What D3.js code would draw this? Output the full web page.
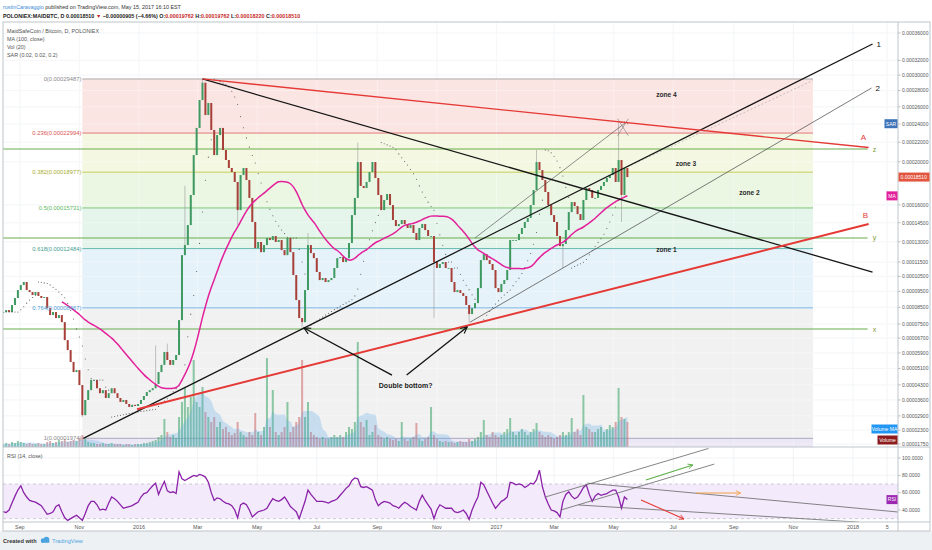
<!DOCTYPE html>
<html><head><meta charset="utf-8"><title>MAIDBTC</title>
<script src="https://cdn.jsdelivr.net/npm/d3@7/dist/d3.min.js"></script>
<style>
html,body{margin:0;padding:0;background:#fff;overflow:hidden}
svg{display:block;font-family:"Liberation Sans",Arial,sans-serif}
</style></head><body>
<svg id="chart" width="932" height="550"></svg>
<script>
// ---------- DATA (prices in units of 1e-8 BTC, one sample every 3 days) ----------
const firstDate = "2015-08-15";
const stepDays = 3;
const closes = [8210,8330,8210,8640,9080,9590,9920,10120,9590,9460,
 9270,9460,9210,9080,9140,8450,8030,8210,7850,8030,
 7610,6590,6050,5430,4920,5020,4290,2930,3600,4050,
 4530,4530,4140,3910,4050,3690,3910,4140,3910,3690,
 3510,3600,3420,3290,3380,3330,3420,3600,3780,3960,
 4050,4140,4340,4920,5280,5950,5530,5280,5530,5790,
 7730,12000,12750,14310,16860,20670,23560,26820,29000,25030,
 26460,23330,20670,22780,23560,21190,20170,19380,18990,18050,
 15550,18700,19380,18230,16600,14560,12520,12980,12220,12750,
 13290,13130,13440,12980,13130,12370,12000,13290,12220,10590,
 8950,7850,7610,9590,12750,12150,11780,10800,10250,10390,
 10120,10250,10390,11080,11780,11860,11500,11780,12900,15130,
 16600,19970,17680,17490,18050,18990,19970,18420,16860,15550,
 16420,16950,15980,14720,14230,14390,14720,14390,14070,14310,
 13680,13130,14070,14390,13910,13440,13440,11500,11080,11360,
 11500,11080,11080,10120,9460,9590,9400,9210,8640,8090,
 8450,8760,9720,11640,12070,11640,11360,10940,9720,9460,
 9990,10250,10940,13130,13130,13130,13600,14070,14560,14890,
 15980,17310,19970,19180,18230,17130,15980,15130,14560,13440,
 12670,12830,13910,15380,16240,15890,15210,14720,16420,17490,
 17310,16600,16600,17310,17680,18050,18420,18700,19380,18050,
 20170,16860,19380,18510];
const wickIndex = [27,52,56,62,68,80,102,104,121,147,159,182,191,210,211];
const wickHigh  = [null,6300,6400,17700,29487,null,null,13680,21980,null,null,21190,null,24230,null];
const wickLow   = [2850,null,null,null,null,14310,7300,null,null,7850,7550,null,11080,null,14560];
const volumes = [30,40,30,50,40,60,50,40,30,40,30,30,40,30,30,50,60,40,50,70,
 60,80,50,60,70,60,90,120,80,50,40,
 40,30,30,40,30,30,40,30,30,30,20,30,30,20,30,30,30,40,40,50,
 60,70,100,120,280,150,100,120,90,
 300,450,600,400,500,870,450,400,600,350,
 300,250,300,200,250,180,200,150,120,140,
 250,150,120,100,150,120,340,150,120,200,
 890,200,570,150,120,150,200,450,150,200,
 250,300,870,300,450,150,120,100,80,100,
 80,80,100,120,100,120,100,150,200,180,
 250,1050,250,200,270,120,150,220,120,100,
 80,100,80,70,80,60,250,80,60,80,
 100,240,80,60,80,100,400,120,80,60,
 50,60,50,50,40,50,60,50,50,80,
 60,80,100,150,270,120,100,150,120,100,
 120,150,180,290,150,120,150,180,150,120,
 150,180,240,150,120,100,120,100,80,100,
 120,150,120,150,290,150,180,120,520,200,
 180,150,150,180,200,150,180,220,200,250,
 590,300,280,250];
const rsiValues = [38,37,40,48,56,63,68,60,55,51,
 50,49,47,45,40,35,36,38,44,46,
 38,31,28,30,32,34,31,28,36,45,
 50,50,46,40,41,40,48,55,53,50,
 46,42,43,44,45,47,49,55,59,60,
 64,68,71,58,66,73,62,60,61,59,
 84,76,74,76,78,80,79,81,80,78,
 72,60,51,54,53,50,48,47,45,40,
 31,46,48,46,40,32,35,38,39,40,
 42,48,53,51,50,52,55,50,44,41,
 38,30,40,50,63,58,54,50,50,50,
 49,48,50,51,53,57,61,65,68,74,
 77,76,67,66,67,65,63,52,45,48,
 50,49,48,45,44,42,46,49,47,44,
 42,40,50,57,51,46,41,30,40,46,
 44,42,42,42,38,37,38,40,36,29,
 40,48,55,72,69,62,55,48,42,46,
 50,52,55,72,71,69,70,69,66,68,
 71,70,75,86,67,55,47,40,39,37,
 32,50,58,61,56,53,55,60,66,69,
 58,50,56,59,57,58,59,61,63,63,
 55,42,55,52];
const priceTicks = [36000,32000,30000,28000,26000,24000,22000,20000,16000,14500,13000,11500,10500,9500,8500,7500,6700,5900,5100,4300,3600,2900,2300,1750];
const rsiTicks = [100,80,60,40];
const timeTickDates = ["2015-09-01","2015-11-01","2016-01-01","2016-03-01","2016-05-01","2016-07-01","2016-09-01","2016-11-01","2017-01-01","2017-03-01","2017-05-01","2017-07-01","2017-09-01","2017-11-01","2018-01-01","2018-02-05"];
const timeTickLabels = ["Sep","Nov","2016","Mar","May","Jul","Sep","Nov","2017","Mar","May","Jul","Sep","Nov","2018","5"];
const fibLevels = [0,0.236,0.382,0.5,0.618,0.764,1];
const fibHighPrice = 29487, fibLowPrice = 1974;
const fibStartDate = "2015-11-04", fibEndDate = "2017-11-21";
// drawings: [date1, price1, date2, price2]
const lineA      = ["2016-03-06",29487,"2018-01-17",21450];
const lineB      = ["2015-12-30",3190,"2018-01-17",14390];
const line1      = ["2015-11-05",1974,"2018-01-21",34350];
const lineDown   = ["2016-03-06",29487,"2018-01-21",10800];
const line2      = ["2016-12-05",7610,"2018-01-20",28320];
const lineUpper  = ["2016-12-10",13290,"2017-05-14",24230];
const lineDashed = ["2017-05-15",19480,"2017-11-21",29300];
const crossA = ["2017-05-05",24600,"2017-05-16",22700];
const crossB = ["2017-05-05",22700,"2017-05-16",24600];
const levelNames = ["z","y","x"];
const levelPrices = [21290,13290,7210];
const levelEndDate = "2018-01-16";
const arrowLeft  = ["2016-09-16",4770,"2016-06-18",7270];
const arrowRight = ["2016-10-01",4770,"2016-12-02",7330];
const noteText = "Double bottom?", noteDate = "2016-09-30", notePrice = 4240;
const zoneNames = ["zone 4","zone 3","zone 2","zone 1"];
const zoneDates = ["2017-06-24","2017-07-14","2017-09-17","2017-06-24"];
const zonePrices = [27440,19770,17040,12370];
// RSI drawings: [date1, rsi1, date2, rsi2]
const rsiLines = [["2017-02-20",55,"2017-08-06",111],["2017-03-08",40,"2017-08-12",93],
                  ["2017-04-04",71,"2018-02-16",37.7],["2017-03-26",45.8,"2018-01-07",26]];
const rsiArrowGreen  = ["2017-06-03",74.6,"2017-07-21",92];
const rsiArrowOrange = ["2017-07-24",59.6,"2017-09-08",59.6];
const rsiArrowRed    = ["2017-05-29",51.6,"2017-07-12",29.6];

// ---------- LAYOUT ----------
const L=3, R=898, T=22, MB=447, RB=522, AB=531, W=930;
const svg = d3.select("#chart");
const parse = d3.utcParse("%Y-%m-%d");
const x = d3.scaleUtc().domain([parse("2016-01-01"), parse("2018-01-01")]).range([139, 853]);
const y = d3.scaleSymlog().constant(10000).domain([1750, 36000]).range([444, 33]);
const yv = d3.scaleLinear().domain([0, 1070]).range([MB, 340]);
const yr = d3.scaleLinear().domain([100, 40]).range([458, 510]);
const X = s => x(parse(s));
const dates = closes.map((_, i) => d3.utcDay.offset(parse(firstDate), stepDays * i));

// OHLC
const opens = closes.map((c, i) => i ? closes[i-1] : c);
const highs = closes.map((c, i) => Math.max(c, opens[i]));
const lows  = closes.map((c, i) => Math.min(c, opens[i]));
wickIndex.forEach((k, j) => { if (wickHigh[j] != null) highs[k] = Math.max(highs[k], wickHigh[j]); if (wickLow[j] != null) lows[k] = Math.min(lows[k], wickLow[j]); });

// indicators
const ma = closes.map((c, i) => i < 20 ? null : d3.mean(closes.slice(Math.max(0, i - 33), i + 1)));
const vma = volumes.map((v, i) => d3.mean(volumes.slice(Math.max(0, i - 6), i + 1)));
function psar(hi, lo) {
  const out = new Array(hi.length).fill(null);
  let up = true, af = 0.02, ep = hi[0], sar = lo[0];
  for (let i = 1; i < hi.length; i++) {
    sar = sar + af * (ep - sar);
    if (up) {
      sar = Math.min(sar, lo[i-1], i > 1 ? lo[i-2] : lo[i-1]);
      if (lo[i] < sar) { up = false; sar = ep; ep = lo[i]; af = 0.02; }
      else if (hi[i] > ep) { ep = hi[i]; af = Math.min(af + 0.02, 0.2); }
    } else {
      sar = Math.max(sar, hi[i-1], i > 1 ? hi[i-2] : hi[i-1]);
      if (hi[i] > sar) { up = true; sar = ep; ep = hi[i]; af = 0.02; }
      else if (lo[i] < ep) { ep = lo[i]; af = Math.min(af + 0.02, 0.2); }
    }
    out[i] = sar;
  }
  return out;
}
const sar = psar(highs, lows);

// ---------- BACKGROUND / FRAME ----------
svg.append("rect").attr("x",0).attr("y",0).attr("width",932).attr("height",550).attr("fill","#fff");
svg.append("rect").attr("x",0).attr("y",AB).attr("width",932).attr("height",550-AB).attr("fill","#eef1f4");
const defs = svg.append("defs");
defs.append("clipPath").attr("id","cm").append("rect").attr("x",L).attr("y",T).attr("width",R-L).attr("height",MB-T);
defs.append("clipPath").attr("id","cr").append("rect").attr("x",L).attr("y",MB).attr("width",R-L).attr("height",RB-MB);
function marker(id, color, size) {
  defs.append("marker").attr("id", id).attr("viewBox","0 0 10 10").attr("refX",9).attr("refY",5)
    .attr("markerWidth",size).attr("markerHeight",size).attr("markerUnits","userSpaceOnUse").attr("orient","auto")
    .append("path").attr("d","M1,1 L9,5 L1,9").attr("fill","none").attr("stroke",color).attr("stroke-width",1.4);
}
marker("mBlack","#111",8); marker("mGreen","#5cae46",6); marker("mOrange","#f2a447",6); marker("mRed","#e53935",6);

// grid
const grid = svg.append("g").attr("stroke","#edf0f3").attr("stroke-width",0.8);
timeTickDates.forEach(d => { grid.append("line").attr("x1",X(d)).attr("x2",X(d)).attr("y1",T).attr("y2",RB); });
priceTicks.forEach(p => { grid.append("line").attr("x1",L).attr("x2",R).attr("y1",y(p)).attr("y2",y(p)); });
rsiTicks.forEach(v => { grid.append("line").attr("x1",L).attr("x2",R).attr("y1",yr(v)).attr("y2",yr(v)); });

// ---------- MAIN PANE ----------
const main = svg.append("g").attr("clip-path","url(#cm)");
const fibPrice = l => Math.round(fibHighPrice - l * (fibHighPrice - fibLowPrice));
const fx0 = X(fibStartDate), fx1 = X(fibEndDate);
const fibFills = ["#fbe5e3","#f4f8e2","#ebf6e3","#e5f5eb","#e6f2f9","#f1f1f2"];
const fibLineColors = ["#a0a0a0","#e06b6b","#c4c94a","#73c173","#56b3a6","#6ab0e6","#a39fb8"];
const fibLabelColors = ["#8a8a8a","#d9534f","#a9ad33","#5cb85c","#3f9e90","#4a9ad6","#8a8a8a"];
for (let k = 0; k < fibLevels.length - 1; k++) {
  const ya = y(fibPrice(fibLevels[k])), yb = y(fibPrice(fibLevels[k+1]));
  main.append("rect").attr("x",fx0).attr("y",ya).attr("width",fx1-fx0).attr("height",yb-ya).attr("fill",fibFills[k]);
}
main.append("rect").attr("x",fx0).attr("y",y(fibLowPrice)).attr("width",fx1-fx0).attr("height",MB-y(fibLowPrice)).attr("fill","#ebe7f5");
// re-draw grid faintly over fills
const grid2 = main.append("g").attr("stroke","#ffffff").attr("stroke-opacity",0.45).attr("stroke-width",0.8);
timeTickDates.forEach(d => grid2.append("line").attr("x1",X(d)).attr("x2",X(d)).attr("y1",T).attr("y2",MB));
priceTicks.forEach(p => grid2.append("line").attr("x1",L).attr("x2",R).attr("y1",y(p)).attr("y2",y(p)));
fibLevels.forEach((l, k) => {
  main.append("line").attr("x1",fx0).attr("x2",fx1).attr("y1",y(fibPrice(l))).attr("y2",y(fibPrice(l)))
    .attr("stroke",fibLineColors[k]).attr("stroke-width",0.9);
});

// horizontal levels z y x
levelPrices.forEach(p => {
  main.append("line").attr("x1",L).attr("x2",X(levelEndDate)).attr("y1",y(p)).attr("y2",y(p))
    .attr("stroke","#6aab4f").attr("stroke-width",1.1);
});

// volume
const bw = 2;
main.append("g").selectAll("rect").data(volumes).join("rect")
  .attr("x",(v,i)=>x(dates[i])-bw/2).attr("width",bw)
  .attr("y",v=>yv(v)).attr("height",v=>MB-yv(v))
  .attr("fill",(v,i)=> closes[i]>=opens[i] ? "rgba(70,170,110,0.6)" : "rgba(205,100,100,0.55)");
main.append("path").datum(vma)
  .attr("d", d3.area().x((v,i)=>x(dates[i])).y0(MB).y1(v=>yv(v)).curve(d3.curveMonotoneX))
  .attr("fill","rgba(90,170,230,0.28)");

// candles
const cg = main.append("g");
closes.forEach((c, i) => {
  const cx = x(dates[i]);
  cg.append("line").attr("x1",cx).attr("x2",cx).attr("y1",y(highs[i])).attr("y2",y(lows[i]))
    .attr("stroke","#9a9a9a").attr("stroke-width",0.6);
  const up = c >= opens[i];
  const y0 = y(Math.max(c, opens[i])), y1 = y(Math.min(c, opens[i]));
  cg.append("rect").attr("x",cx-1).attr("width",2).attr("y",y0).attr("height",Math.max(0.8,y1-y0))
    .attr("fill", up ? "#3f9a62" : "#a8403a");
});

// SAR dots
main.append("g").selectAll("circle").data(sar.map((s,i)=>[s,i]).filter(d=>d[0]!=null)).join("circle")
  .attr("cx",d=>x(dates[d[1]])).attr("cy",d=>y(d[0])).attr("r",0.55).attr("fill","#555");

// MA 100
main.append("path").datum(ma.map((m,i)=>[m,i]).filter(d=>d[0]!=null))
  .attr("d", d3.line().x(d=>x(dates[d[1]])).y(d=>y(d[0])).curve(d3.curveBasis))
  .attr("fill","none").attr("stroke","#e3209b").attr("stroke-width",1.5);

// trend lines
function seg(g, a, sc, stroke, w, dash, mk) {
  const l = g.append("line").attr("x1",X(a[0])).attr("y1",sc(a[1])).attr("x2",X(a[2])).attr("y2",sc(a[3]))
    .attr("stroke",stroke).attr("stroke-width",w);
  if (dash) l.attr("stroke-dasharray",dash);
  if (mk) l.attr("marker-end",`url(#${mk})`);
  return l;
}
const ov = svg.append("g");
seg(ov, lineDashed, y, "#b5b5b5", 0.8, "2,2");
seg(ov, lineUpper, y, "#444", 0.6);
seg(ov, line2, y, "#444", 0.7);
seg(ov, crossA, y, "#777", 0.6);
seg(ov, crossB, y, "#777", 0.6);
seg(ov, lineDown, y, "#151515", 1.3);
seg(ov, line1, y, "#151515", 1.3);
seg(ov, lineA, y, "#e53935", 1.3);
seg(ov, lineB, y, "#e53935", 2);
seg(ov, arrowLeft, y, "#111", 1.3, null, "mBlack");
seg(ov, arrowRight, y, "#111", 1.3, null, "mBlack");

// labels of drawings
const lab = svg.append("g").attr("font-size",8);
lab.append("text").attr("x",X(line1[2])+4).attr("y",y(line1[3])+3).text("1").attr("fill","#111");
lab.append("text").attr("x",X(line2[2])+4).attr("y",y(line2[3])+3).text("2").attr("fill","#111");
lab.append("text").attr("x",X(lineA[2])-8).attr("y",y(lineA[3])-8).text("A").attr("fill","#e53935");
lab.append("text").attr("x",X(lineB[2])-6).attr("y",y(lineB[3])-6).text("B").attr("fill","#e53935");
levelNames.forEach((n,k)=>{
  lab.append("text").attr("x",X(levelEndDate)+5).attr("y",y(levelPrices[k])+2.5).text(n)
    .attr("fill","#7f9a3a").attr("font-size",7);
});
svg.append("text").attr("x",X(noteDate)).attr("y",y(notePrice)+2).attr("text-anchor","middle")
  .attr("font-size",7).attr("font-weight","bold").attr("fill","#222").text(noteText);
zoneNames.forEach((n,k)=>{
  svg.append("text").attr("x",X(zoneDates[k])).attr("y",y(zonePrices[k])+2).attr("text-anchor","middle")
    .attr("font-size",6.6).attr("font-weight","bold").attr("fill","#2a2a2a").text(n);
});
// fib labels
fibLevels.forEach((l,k)=>{
  const p = fibPrice(l);
  svg.append("text").attr("x",fx0-1).attr("y",y(p)+2).attr("text-anchor","end").attr("font-size",5.8)
    .attr("fill",fibLabelColors[k]).text(`${l}(${(p*1e-8).toFixed(8)})`);
});

// ---------- RSI PANE ----------
const rp = svg.append("g").attr("clip-path","url(#cr)");
rp.append("rect").attr("x",L).attr("y",yr(70)).attr("width",R-L).attr("height",yr(30)-yr(70)).attr("fill","#f3eafb");
[70,30].forEach(v=> rp.append("line").attr("x1",L).attr("x2",R).attr("y1",yr(v)).attr("y2",yr(v))
  .attr("stroke","#c4bccc").attr("stroke-width",0.8).attr("stroke-dasharray","3,3"));
rp.append("path").datum(rsiValues)
  .attr("d", d3.line().x((v,i)=>x(dates[i])).y(v=>yr(v)))
  .attr("fill","none").attr("stroke","#8a22a8").attr("stroke-width",1.3);
rsiLines.forEach(a => seg(rp, a, yr, "#666", 0.8));
seg(rp, rsiArrowGreen, yr, "#5cae46", 1.1, null, "mGreen");
seg(rp, rsiArrowOrange, yr, "#f2a447", 1.1, null, "mOrange");
seg(rp, rsiArrowRed, yr, "#e53935", 1.1, null, "mRed");

// ---------- FRAME LINES ----------
const fr = svg.append("g").attr("stroke","#b9bfc5").attr("stroke-width",0.9).attr("fill","none");
fr.append("rect").attr("x",L).attr("y",T).attr("width",W-L).attr("height",AB-T);
fr.append("line").attr("x1",L).attr("x2",W).attr("y1",MB).attr("y2",MB);
fr.append("line").attr("x1",L).attr("x2",W).attr("y1",RB).attr("y2",RB);
fr.append("line").attr("x1",R).attr("x2",R).attr("y1",T).attr("y2",AB);

// ---------- AXES ----------
const ax = svg.append("g").attr("font-size",5).attr("fill","#555");
priceTicks.forEach(p => {
  ax.append("line").attr("x1",R).attr("x2",R+2.5).attr("y1",y(p)).attr("y2",y(p)).attr("stroke","#b9bfc5");
  ax.append("text").attr("x",R+4).attr("y",y(p)+1.8).text((p*1e-8).toFixed(8));
});
rsiTicks.forEach(v => {
  ax.append("line").attr("x1",R).attr("x2",R+2.5).attr("y1",yr(v)).attr("y2",yr(v)).attr("stroke","#b9bfc5");
  ax.append("text").attr("x",R+4).attr("y",yr(v)+1.8).text(v.toFixed(4));
});
timeTickDates.forEach((d,k) => {
  ax.append("text").attr("x",X(d)).attr("y",528.5).attr("text-anchor","middle").attr("font-size",5.4).text(timeTickLabels[k]);
});

// badges
function badge(xr, yc, txt, fill, w) {
  svg.append("rect").attr("x",xr-w).attr("y",yc-4.5).attr("width",w).attr("height",9).attr("fill",fill);
  svg.append("text").attr("x",xr-w/2).attr("y",yc+1.8).attr("text-anchor","middle").attr("font-size",5)
    .attr("fill","#fff").text(txt);
}
const lastClose = closes[closes.length-1];
svg.append("rect").attr("x",R+0.5).attr("y",y(lastClose)-4.5).attr("width",31).attr("height",9).attr("fill","#e2553f");
svg.append("text").attr("x",R+2.5).attr("y",y(lastClose)+1.8).attr("font-size",5).attr("fill","#fff").text((lastClose*1e-8).toFixed(8));
badge(R-0.5, y(sar[sar.length-1]), "SAR", "#3f73b8", 13);
badge(R-0.5, y(ma[ma.length-1]), "MA", "#e3209b", 11);
badge(R-0.5, MB-18, "Volume MA", "#2196f3", 26);
badge(R-0.5, MB-7, "Volume", "#8e1c1c", 20);
badge(R-0.5, yr(rsiValues[rsiValues.length-1]), "RSI", "#9c27b0", 11);

// ---------- TEXT ----------
const t1 = svg.append("text").attr("x",3).attr("y",8.5).attr("font-size",5.4);
t1.append("tspan").attr("fill","#3a8bd8").text("rustinCaravaggio");
t1.append("tspan").attr("fill","#333").text(" published on TradingView.com, May 15, 2017 16:10 EST");
const t2 = svg.append("text").attr("x",3).attr("y",17.5).attr("font-size",5.4).attr("font-weight","bold").attr("fill","#222");
t2.append("tspan").text("POLONIEX:MAIDBTC, D  0.00018510 ");
t2.append("tspan").attr("fill","#c62828").text("▼");
t2.append("tspan").text(" −0.00000905 (−4.66%)  O:");
t2.append("tspan").attr("fill","#c62828").text("0.00019762");
t2.append("tspan").text(" H:");
t2.append("tspan").attr("fill","#c62828").text("0.00019762");
t2.append("tspan").text(" L:");
t2.append("tspan").attr("fill","#c62828").text("0.00018220");
t2.append("tspan").text(" C:");
t2.append("tspan").attr("fill","#c62828").text("0.00018510");
const legend = ["MaidSafeCoin / Bitcoin, D, POLONIEX","MA (100, close)","Vol (20)","SAR (0.02, 0.02, 0.2)"];
legend.forEach((s,k)=> svg.append("text").attr("x",7).attr("y",32.5+k*8.2).attr("font-size",5.4).attr("fill","#555").text(s));
svg.append("text").attr("x",7).attr("y",458).attr("font-size",5.4).attr("fill","#555").text("RSI (14, close)");
svg.append("text").attr("x",3).attr("y",543).attr("font-size",5.6).attr("font-weight","bold").attr("fill","#333").text("Created with");
const logo = svg.append("g").attr("fill","#4aa3df");
logo.append("circle").attr("cx",43).attr("cy",540.5).attr("r",2.2);
logo.append("circle").attr("cx",46.5).attr("cy",539.5).attr("r",2.8);
logo.append("rect").attr("x",41).attr("y",540.5).attr("width",8.5).attr("height",2.3).attr("rx",1);
svg.append("text").attr("x",52).attr("y",543).attr("font-size",5.6).attr("fill","#4aa3df").text("TradingView");
</script>
</body></html>
